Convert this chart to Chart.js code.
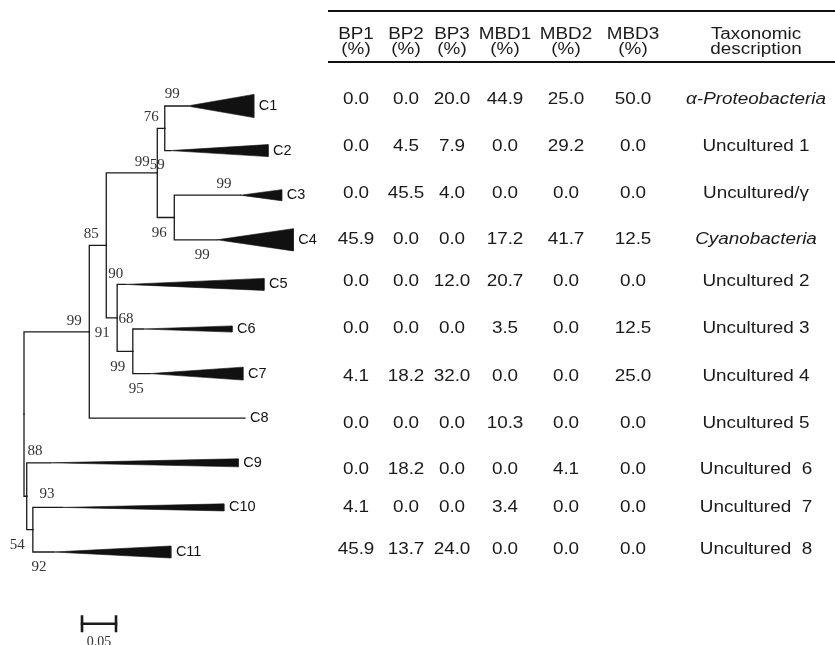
<!DOCTYPE html>
<html>
<head>
<meta charset="utf-8">
<title>Tree</title>
<script src="https://cdn.jsdelivr.net/npm/chart.js@4/dist/chart.umd.min.js"></script>
<style>
  html, body { margin: 0; padding: 0; background: #fff; }
  #wrap { width: 835px; height: 645px; }
</style>
</head>
<body>
<div id="wrap"><canvas id="tree"></canvas></div>
<script>
// clades, top to bottom (tip = end of the triangle, taper = where it starts)
const leafNames  = ['C1', 'C2', 'C3', 'C4', 'C5', 'C6', 'C7', 'C8', 'C9', 'C10', 'C11'];
const leafTip    = [0.338, 0.359, 0.379, 0.396, 0.353, 0.306, 0.322, 0.325, 0.315, 0.294, 0.216];
const leafTaper  = [0.240, 0.215, 0.318, 0.284, 0.149, 0.175, 0.185, 0.325, 0.038, 0.056, 0.043];
const leafSpread = [0.26, 0.135, 0.125, 0.25, 0.135, 0.07, 0.145, 0, 0.09, 0.08, 0.135];

// internal nodes
const nodeIds   = ['A', 'B', 'C', 'D', 'E', 'F', 'G', 'H', 'J', 'K'];
const nodeDepth = [0, 0.096, 0.121, 0.196, 0.207, 0.221, 0.137, 0.160, 0.004, 0.013];
const nodeKids  = [['B', 'J'], ['C', 'C8'], ['D', 'G'], ['E', 'F'], ['C1', 'C2'],
                   ['C3', 'C4'], ['C5', 'H'], ['C6', 'C7'], ['C9', 'K'], ['C10', 'C11']];

// bootstrap values
const bootValues = ['99', '76', '99', '59', '99', '96', '99', '85', '90',
                    '68', '99', '91', '99', '95', '88', '93', '54', '92'];

const scaleBarLen = 0.05;

// table
const colHeads = [['BP1', '(%)'], ['BP2', '(%)'], ['BP3', '(%)'], ['MBD1', '(%)'],
                  ['MBD2', '(%)'], ['MBD3', '(%)'], ['Taxonomic', 'description']];
const bp1  = [0.0, 0.0, 0.0, 45.9, 0.0, 0.0, 4.1, 0.0, 0.0, 4.1, 45.9];
const bp2  = [0.0, 4.5, 45.5, 0.0, 0.0, 0.0, 18.2, 0.0, 18.2, 0.0, 13.7];
const bp3  = [20.0, 7.9, 4.0, 0.0, 12.0, 0.0, 32.0, 0.0, 0.0, 0.0, 24.0];
const mbd1 = [44.9, 0.0, 0.0, 17.2, 20.7, 3.5, 0.0, 10.3, 0.0, 3.4, 0.0];
const mbd2 = [25.0, 29.2, 0.0, 41.7, 0.0, 0.0, 0.0, 0.0, 4.1, 0.0, 0.0];
const mbd3 = [50.0, 0.0, 0.0, 12.5, 0.0, 12.5, 25.0, 0.0, 0.0, 0.0, 0.0];
const taxa = ['α-Proteobacteria', 'Uncultured 1', 'Uncultured/γ', 'Cyanobacteria', 'Uncultured 2',
              'Uncultured 3', 'Uncultured 4', 'Uncultured 5', 'Uncultured  6', 'Uncultured  7', 'Uncultured  8'];
const italicTaxa = ['α-Proteobacteria', 'Cyanobacteria'];

// layout
const bootAt = [[0.218, -0.27], [0.187, 0.25], [0.174, 1.26], [0.196, 1.32], [0.294, 1.75],
                [0.199, 2.85], [0.262, 3.34], [0.099, 2.87], [0.135, 3.77], [0.150, 4.78],
                [0.074, 4.82], [0.115, 5.09], [0.138, 5.85], [0.165, 6.35], [0.016, 7.74],
                [0.034, 8.70], [-0.010, 9.84], [0.022, 10.34]];
const colX = [356, 406, 452, 505, 566, 633, 756];
const rowNudge = [-6, -4, -2, 0, -3, 0, 3, 5, 7, 0, -2];
const barAt = [0.0853, 11.61];
const tableStretch = 1.18;   // the table lettering is wide in the original
const tableFont = '16px "Liberation Sans", Arial, sans-serif';

const ink = '#1a1a1a';

// y of every node = middle of its children
const yPos = {};
leafNames.forEach((n, i) => { yPos[n] = i; });
function yOf(id) {
  if (id in yPos) return yPos[id];
  const k = nodeKids[nodeIds.indexOf(id)];
  yPos[id] = (yOf(k[0]) + yOf(k[1])) / 2;
  return yPos[id];
}
function startOf(id) {
  const n = nodeIds.indexOf(id);
  return n >= 0 ? nodeDepth[n] : leafTaper[leafNames.indexOf(id)];
}

const datasets = [];
const lineDs = (pts, w) => ({
  data: pts, borderColor: ink, borderWidth: w || 1.3, pointRadius: 0,
  fill: false, tension: 0, borderCapStyle: 'square', borderJoinStyle: 'miter'
});

nodeIds.forEach((id, n) => {
  const d = nodeDepth[n];
  const y0 = yOf(id);
  nodeKids[n].forEach(c => {
    const yc = yOf(c);
    datasets.push(lineDs([{ x: d, y: y0 }, { x: d, y: yc }, { x: startOf(c), y: yc }]));
  });
});

leafNames.forEach((n, i) => {
  if (leafSpread[i] > 0) {
    datasets.push({
      data: [{ x: leafTaper[i], y: i }, { x: leafTip[i], y: i - leafSpread[i] },
             { x: leafTip[i], y: i + leafSpread[i] }, { x: leafTaper[i], y: i }],
      borderColor: '#111', borderWidth: 0.6, backgroundColor: '#111',
      pointRadius: 0, tension: 0, fill: 'shape'
    });
  }
});

// scale bar
datasets.push(lineDs([{ x: barAt[0], y: barAt[1] }, { x: barAt[0] + scaleBarLen, y: barAt[1] }], 2.5));
datasets.push(lineDs([{ x: barAt[0], y: barAt[1] - 0.16 }, { x: barAt[0], y: barAt[1] + 0.16 }], 2.6));
datasets.push(lineDs([{ x: barAt[0] + scaleBarLen, y: barAt[1] - 0.16 }, { x: barAt[0] + scaleBarLen, y: barAt[1] + 0.16 }], 2.6));

function wideText(ctx, s, x, y) {
  ctx.save();
  ctx.translate(x, y);
  ctx.scale(tableStretch, 1);
  ctx.fillText(s, 0, 0);
  ctx.restore();
}

const textPlugin = {
  id: 'treeText',
  afterDatasetsDraw(chart) {
    const ctx = chart.ctx;
    const xs = chart.scales.x, ys = chart.scales.y;
    ctx.save();
    ctx.textBaseline = 'middle';

    // clade labels
    ctx.fillStyle = '#111';
    ctx.font = '14.5px "Liberation Sans", Arial, sans-serif';
    ctx.textAlign = 'left';
    leafNames.forEach((n, i) => {
      ctx.fillText(n, xs.getPixelForValue(leafTip[i]) + 5, ys.getPixelForValue(i));
    });

    // bootstrap
    ctx.fillStyle = '#333';
    ctx.font = '15px "Liberation Serif", "Times New Roman", serif';
    ctx.textAlign = 'center';
    bootValues.forEach((v, k) => {
      ctx.fillText(v, xs.getPixelForValue(bootAt[k][0]), ys.getPixelForValue(bootAt[k][1]));
    });

    // scale bar text
    ctx.textBaseline = 'top';
    ctx.font = '14px "Liberation Serif", "Times New Roman", serif';
    ctx.fillText('0.05', xs.getPixelForValue(barAt[0] + scaleBarLen / 2), ys.getPixelForValue(barAt[1]) + 12);

    // table header
    const area = chart.chartArea;
    ctx.strokeStyle = '#111';
    ctx.lineWidth = 2;
    [11, 62].forEach(y => {
      ctx.beginPath();
      ctx.moveTo(area.left + 328, area.top + y);
      ctx.lineTo(area.right, area.top + y);
      ctx.stroke();
    });
    ctx.fillStyle = '#1a1a1a';
    ctx.textBaseline = 'middle';
    ctx.font = tableFont;
    colHeads.forEach((h, c) => {
      wideText(ctx, h[0], area.left + colX[c], area.top + 35);
      wideText(ctx, h[1], area.left + colX[c], area.top + 50);
    });

    // table body
    const cols = [bp1, bp2, bp3, mbd1, mbd2, mbd3];
    leafNames.forEach((n, i) => {
      const y = ys.getPixelForValue(i) + rowNudge[i];
      ctx.font = tableFont;
      cols.forEach((col, c) => {
        wideText(ctx, col[i].toFixed(1), area.left + colX[c], y);
      });
      const t = taxa[i];
      ctx.font = (italicTaxa.includes(t) ? 'italic ' : '') + tableFont;
      wideText(ctx, t, area.left + colX[6], y);
    });
    ctx.restore();
  }
};

new Chart(document.getElementById('tree'), {
  type: 'line',
  data: { datasets },
  options: {
    responsive: true,
    maintainAspectRatio: false,
    animation: false,
    events: [],
    layout: { padding: 0 },
    plugins: { legend: { display: false }, tooltip: { enabled: false } },
    scales: {
      x: { type: 'linear', min: -24 / 680, max: 811 / 680, display: false },
      y: { type: 'linear', min: -106 / 44.6, max: 539 / 44.6, reverse: true, display: false }
    }
  },
  plugins: [textPlugin]
});
</script>
</body>
</html>
